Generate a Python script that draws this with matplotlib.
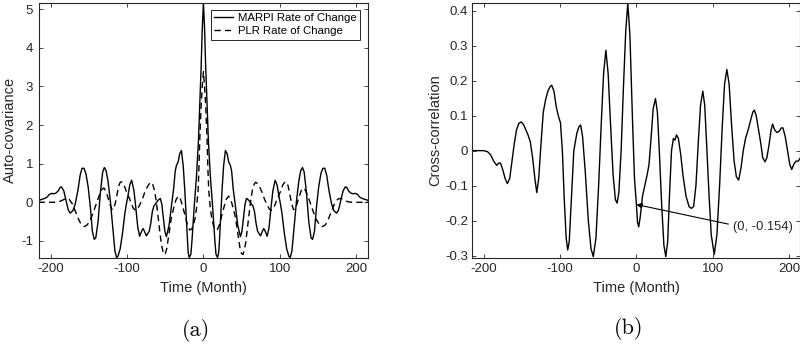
import matplotlib
matplotlib.use("Agg")
import matplotlib.pyplot as plt

# ---------------- data ----------------
marpi_lag = [-216, -214, -211, -208, -205, -202, -199, -196, -193, -190, -188, -186, -183, -180, -177, -174.5, -171, -168,
             -164.5, -161.5, -159, -156.5, -154, -151, -148, -145.5, -143, -141, -138, -135, -132, -129.8, -127.5, -125,
             -122, -119, -116, -113.8, -112, -109, -106, -103, -101, -99, -96.5, -94, -91, -88.5, -86, -83.5, -81, -79,
             -77, -74.8, -71, -69, -67, -65, -62, -59, -56.5, -54.5, -52.5, -50.5, -48.5, -45, -42, -39, -37, -35.4,
             -33, -31, -28.8, -26.5, -24.5, -22.5, -21, -20, -18.5, -16.5, -15, -12, -9, -6.5, -5, -3, -1.5,
             0, 1.5, 3, 5, 6.5, 9, 12, 15, 16.5, 18.5, 20, 21, 22.5, 24.5, 26.5, 28.8, 31, 33, 35.4, 37,
             39, 42, 45, 48.5, 50.5, 52.5, 54.5, 56.5, 59, 62, 65, 67, 69, 71, 74.8, 77, 79, 81, 83.5, 86,
             88.5, 91, 94, 96.5, 99, 101, 103, 106, 109, 112, 113.8, 116, 119, 122, 125, 127.5, 129.8, 132, 135, 138,
             141, 143, 145.5, 148, 151, 154, 156.5, 159, 161.5, 164.5, 168, 171, 174.5, 177, 180, 183, 186, 188, 190, 193,
             196, 199, 202, 205, 208, 211, 214, 216]
marpi_acov = [0.05, 0.06, 0.08, 0.1, 0.13, 0.2, 0.23, 0.22, 0.24, 0.3, 0.38, 0.4, 0.3, 0.05, -0.2, -0.28, -0.22, -0.05,
              0.3, 0.7, 0.88, 0.88, 0.75, 0.4, -0.15, -0.75, -0.96, -0.92, -0.5, 0.25, 0.78, 0.9, 0.82, 0.55,
              0.05, -0.6, -1.25, -1.43, -1.4, -1.2, -0.8, -0.3, -0.05, 0.15, 0.45, 0.57, 0.3, -0.15, -0.65, -0.88, -0.75, -0.68,
              -0.76, -0.87, -0.75, -0.55, -0.25, -0.1, -0.02, 0.06, 0.1, -0.05, -0.4, -0.75, -0.89, -0.6, -0.11, 0.35, 0.8, 0.95,
              1.05, 1.26, 1.34, 0.95, 0.35, -0.4, -1.0, -1.3, -1.43, -1.35, -1.0, -0.1, 0.7, 1.6, 2.4, 3.5, 4.5,
              5.16, 4.5, 3.5, 2.4, 1.6, 0.7, -0.1, -1.0, -1.35, -1.43, -1.3, -1.0, -0.4, 0.35, 0.95, 1.34, 1.26, 1.05, 0.95, 0.8,
              0.35, -0.11, -0.6, -0.89, -0.75, -0.4, -0.05, 0.1, 0.06, -0.02, -0.1, -0.25, -0.55, -0.75, -0.87, -0.76, -0.68, -0.75, -0.88, -0.65,
              -0.15, 0.3, 0.57, 0.45, 0.15, -0.05, -0.3, -0.8, -1.2, -1.4, -1.43, -1.25, -0.6, 0.05, 0.55, 0.82, 0.9, 0.78, 0.25, -0.5,
              -0.92, -0.96, -0.75, -0.15, 0.4, 0.75, 0.88, 0.88, 0.7, 0.3, -0.05, -0.22, -0.28, -0.2, 0.05, 0.3, 0.4, 0.38, 0.3, 0.24,
              0.22, 0.23, 0.2, 0.13, 0.1, 0.08, 0.06, 0.05]

plr_lag = [-216, -205, -195, -190, -186, -182, -179, -176, -172, -168, -164, -160, -156, -152, -148, -144, -140, -136, -133, -130.5,
           -128, -125, -122.5, -120, -118, -115.5, -113, -111, -109, -107, -104, -101, -98, -95, -92, -89, -86.5, -83.5, -80, -77,
           -74, -71, -68.5, -66.5, -64, -62, -59.5, -57.5, -55, -52, -50, -48, -45, -42, -39, -36, -33, -30, -26.6, -24,
           -21, -18, -16, -13.5, -11, -9, -7, -6, -4.8, -3, -1.5,
           0, 1.5, 3, 4.8, 6, 7, 9, 11, 13.5, 16, 18, 21, 24, 26.6, 30, 33, 36, 39, 42, 45,
           48, 50, 52, 55, 57.5, 59.5, 62, 64, 66.5, 68.5, 71, 74, 77, 80, 83.5, 86.5, 89, 92, 95, 98,
           101, 104, 107, 109, 111, 113, 115.5, 118, 120, 122.5, 125, 128, 130.5, 133, 136, 140, 144, 148, 152, 156,
           160, 164, 168, 172, 176, 179, 182, 186, 190, 195, 205, 216]
plr_acov = [0.0, 0.0, 0.0, 0.01, 0.04, 0.08, 0.1, 0.08, -0.03, -0.22, -0.42, -0.58, -0.63, -0.58, -0.45, -0.25, -0.02, 0.2, 0.33, 0.37,
            0.3, 0.12, -0.05, -0.18, -0.19, -0.03, 0.22, 0.42, 0.52, 0.53, 0.45, 0.28, 0.15, 0.0, -0.15, -0.21, -0.18, -0.07, 0.08, 0.25,
            0.38, 0.48, 0.52, 0.47, 0.3, 0.05, -0.35, -0.7, -1.1, -1.35, -1.33, -1.2, -0.8, -0.4, -0.15, 0.06, 0.16, 0.08, -0.15, -0.35,
            -0.58, -0.72, -0.7, -0.63, -0.42, -0.15, 0.3, 0.8, 1.6, 2.5, 3.0,
            3.38, 3.0, 2.5, 1.6, 0.8, 0.3, -0.15, -0.42, -0.63, -0.7, -0.72, -0.58, -0.35, -0.15, 0.08, 0.16, 0.06, -0.15, -0.4, -0.8,
            -1.2, -1.33, -1.35, -1.1, -0.7, -0.35, 0.05, 0.3, 0.47, 0.52, 0.48, 0.38, 0.25, 0.08, -0.07, -0.18, -0.21, -0.15, 0.0, 0.15,
            0.28, 0.45, 0.53, 0.52, 0.42, 0.22, -0.03, -0.19, -0.18, -0.05, 0.12, 0.3, 0.37, 0.33, 0.2, -0.02, -0.25, -0.45, -0.58, -0.63,
            -0.58, -0.42, -0.22, -0.03, 0.08, 0.1, 0.08, 0.04, 0.01, 0.0, 0.0, 0.0]

cc_lag = [-215, -200, -195, -191, -187, -183, -180, -178, -175, -172, -169, -166, -163, -160, -157, -154, -151, -148, -145, -142,
          -139, -136, -133, -130.5, -128, -125, -122, -119, -116, -113, -111, -108, -105, -102, -99.5, -97, -94.5, -92, -90, -88,
          -85.5, -82, -78, -75, -73, -70.5, -67, -63, -59.5, -56.5, -53, -49.5, -46, -43, -40, -37, -34, -30.5, -27.5, -25.3,
          -23, -20, -17, -14, -11.3, -8.5, -5, -2.5, 0, 1.5, 3, 5, 8, 11, 14, 16.5, 19, 22, 25, 27.5,
          30, 33, 36, 38.5, 41, 43.5, 46, 48.5, 50.5, 52.5, 55, 58, 61, 65, 69, 72, 75, 78, 81, 84,
          87, 89.5, 92, 95, 98, 102, 105.5, 109, 112.5, 115.5, 118.5, 121.5, 124.5, 128, 131, 134, 137, 140, 143, 146.5,
          150, 152.5, 154.5, 157, 160, 163, 165.5, 168.5, 171, 174, 176.5, 178.5, 181, 184, 187, 190, 192, 195, 198, 201,
          203.5, 206, 209, 212, 215]
cc_val = [0.0, 0.0, -0.003, -0.012, -0.03, -0.042, -0.035, -0.036, -0.055, -0.08, -0.094, -0.08, -0.03, 0.02, 0.06, 0.078, 0.082, 0.075, 0.06, 0.045,
          0.025, -0.02, -0.08, -0.12, -0.08, 0.02, 0.11, 0.145, 0.17, 0.183, 0.187, 0.17, 0.125, 0.097, 0.08, 0.0, -0.14, -0.25, -0.284, -0.26,
          -0.15, 0.0, 0.05, 0.07, 0.073, 0.04, -0.06, -0.2, -0.28, -0.303, -0.25, -0.1, 0.08, 0.22, 0.287, 0.22, 0.08, -0.07, -0.14, -0.15,
          -0.12, 0.0, 0.18, 0.34, 0.422, 0.33, 0.08, -0.08, -0.154, -0.205, -0.218, -0.19, -0.13, -0.1, -0.07, -0.04, 0.03, 0.12, 0.149, 0.11,
          0.0, -0.15, -0.27, -0.303, -0.26, -0.12, 0.0, 0.035, 0.03, 0.045, 0.035, -0.01, -0.07, -0.13, -0.16, -0.165, -0.16, -0.1, 0.02, 0.13,
          0.17, 0.13, 0.02, -0.12, -0.24, -0.297, -0.24, -0.1, 0.07, 0.19, 0.232, 0.19, 0.08, -0.03, -0.075, -0.084, -0.05, 0.0, 0.035, 0.06,
          0.09, 0.11, 0.116, 0.1, 0.06, 0.02, -0.02, -0.032, -0.02, 0.02, 0.06, 0.076, 0.06, 0.052, 0.055, 0.065, 0.065, 0.04, 0.0, -0.04,
          -0.054, -0.04, -0.03, -0.03, -0.02]

x_ticks = [-200, -100, 0, 100, 200]
acov_ticks = [-1, 0, 1, 2, 3, 4, 5]
cc_ticks = [-0.3, -0.2, -0.1, 0, 0.1, 0.2, 0.3, 0.4]
cc_tick_labels = ["-0.3", "-0.2", "-0.1", "0", "0.1", "0.2", "0.3", "0.4"]
legend_labels = ["MARPI Rate of Change", "PLR Rate of Change"]
annot_point = (0, -0.154)
annot_text = "(0, -0.154)"

# ---------------- style ----------------
plt.rcParams["font.family"] = ["Liberation Sans", "DejaVu Sans"]
plt.rcParams["axes.unicode_minus"] = False
AX_COL = "#262626"

W, H = 800, 347
fig = plt.figure(figsize=(8.0, 3.47), dpi=100)


def ax_rect(l, r, t, b):
    return [l / W, 1 - b / H, (r - l) / W, (b - t) / H]


def style(ax, ypad):
    for s in ax.spines.values():
        s.set_color(AX_COL)
        s.set_linewidth(0.8)
    ax.tick_params(direction="in", length=3, width=0.6, colors=AX_COL,
                   labelsize=9.5, top=True, right=True)
    ax.tick_params(axis="x", pad=3.5)
    ax.tick_params(axis="y", pad=ypad)


# ---- (a) auto-covariance ----
ax1 = fig.add_axes(ax_rect(39.3, 368.3, 3, 257.7))
ax1.plot(marpi_lag, marpi_acov, color="black", lw=1.0, label=legend_labels[0])
ax1.plot(plr_lag, plr_acov, color="black", lw=1.0, dashes=(4.5, 3), label=legend_labels[1])
ax1.set_xlim(-215, 216)
ax1.set_ylim(-1.435, 5.16)
ax1.set_xticks(x_ticks)
ax1.set_yticks(acov_ticks)
style(ax1, 4.5)
ax1.set_xlabel("Time (Month)", fontsize=10.5, color=AX_COL)
ax1.xaxis.set_label_coords(0.5, -0.09)
ax1.set_ylabel("Auto-covariance", fontsize=10.5, color=AX_COL)
ax1.yaxis.set_label_coords(-0.068, 0.5)
leg = ax1.legend(loc="upper right", bbox_to_anchor=(0.975, 0.9725), borderaxespad=0,
                 fontsize=8.2, fancybox=False, framealpha=1, edgecolor=AX_COL,
                 handlelength=1.7, handletextpad=0.4, labelspacing=0.25, borderpad=0.3)
leg.get_frame().set_linewidth(0.7)

# ---- (b) cross-correlation ----
ax2 = fig.add_axes(ax_rect(472.3, 800.5, 3, 257.7))
ax2.plot(cc_lag, cc_val, color="black", lw=1.0)
ax2.set_xlim(-215, 215)
ax2.set_ylim(-0.306, 0.422)
ax2.set_xticks(x_ticks)
ax2.set_yticks(cc_ticks)
ax2.set_yticklabels(cc_tick_labels)
style(ax2, 3)
ax2.set_xlabel("Time (Month)", fontsize=10.5, color=AX_COL)
ax2.xaxis.set_label_coords(0.5, -0.09)
ax2.set_ylabel("Cross-correlation", fontsize=10.5, color=AX_COL)
ax2.yaxis.set_label_coords(-0.093, 0.5)
ax2.annotate("", xy=annot_point, xytext=(120.5, -0.21),
             arrowprops=dict(arrowstyle="-|>", color="black", lw=0.8,
                             mutation_scale=8, shrinkA=0, shrinkB=0))
ax2.text(126.3, -0.218, annot_text, fontsize=9.3, color=AX_COL, ha="left", va="center")

# ---- captions ----
fig.text(195.8 / W, 1 - 330 / H, "(a)", family="cmr10", fontsize=16, ha="center", va="center")
fig.text(628.3 / W, 1 - 328 / H, "(b)", family="cmr10", fontsize=16, ha="center", va="center")

fig.savefig("out.png", dpi=100)
